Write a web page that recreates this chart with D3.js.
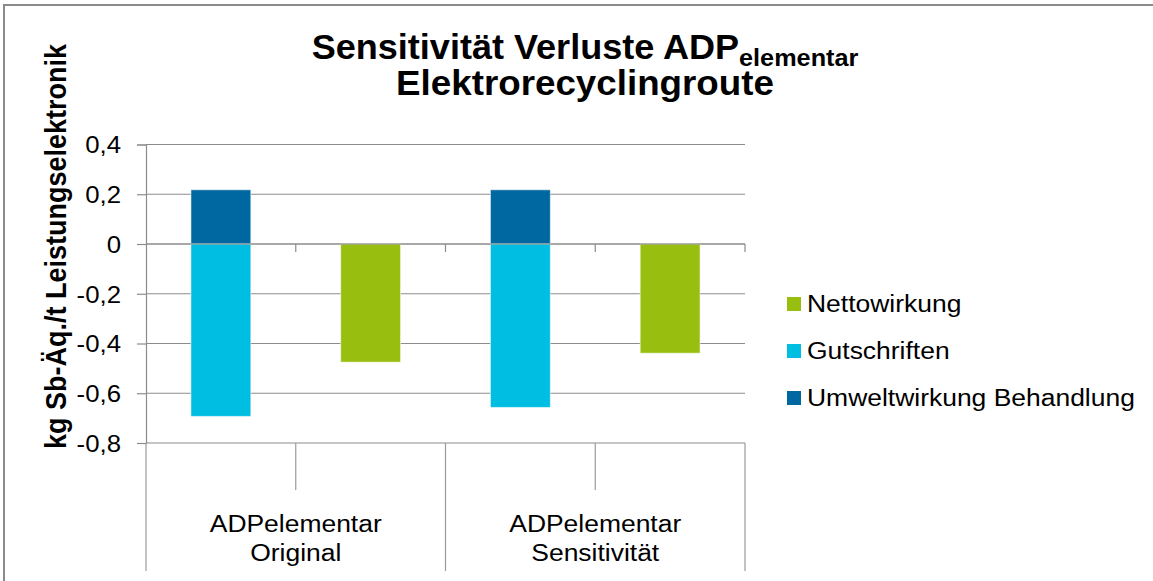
<!DOCTYPE html>
<html>
<head>
<meta charset="utf-8">
<script src="https://cdn.jsdelivr.net/npm/d3@7"></script>
<style>
  body { margin: 0; background: #fff; }
  text { font-family: "Liberation Sans", Arial, Helvetica, sans-serif; fill: #000; }
</style>
</head>
<body>
<svg id="chart" width="1153" height="581"></svg>
<script>
// Kategorien (zweizeilige Beschriftung) und Positionen innerhalb jeder Kategorie
const categories = ["ADPelementar\nOriginal", "ADPelementar\nSensitivität"];
const slots = ["gestapelt", "netto"];

// Werte in kg Sb-Äq./t Leistungselektronik
const umweltwirkung = [0.218, 0.218];
const gutschriften = [-0.693, -0.657];
const nettowirkung = [-0.475, -0.439];

const yTicks = [0.4, 0.2, 0, -0.2, -0.4, -0.6, -0.8];
const legendNames = ["Nettowirkung", "Gutschriften", "Umweltwirkung Behandlung"];
const legendColors = ["#98bf10", "#00bde2", "#0068a0"];

const svg = d3.select("#chart");
const plot = { left: 146, right: 745, top: 144.5, bottom: 443 };
const axisBottom = 571;

const de = d3.formatLocale({ decimal: ",", thousands: ".", grouping: [3], currency: ["", " €"], minus: "-" });
const fmt = de.format(".1~f");

// Horizontally widen a text element to the given factor of its natural length
function stretch(sel, k) {
  sel.each(function () {
    const w = this.getComputedTextLength();
    this.setAttribute("textLength", w * k);
    this.setAttribute("lengthAdjust", "spacingAndGlyphs");
  });
}

// Chart frame
svg.append("rect")
  .attr("x", 4).attr("y", 5).attr("width", 1200).attr("height", 640)
  .attr("fill", "none").attr("stroke", "#8a8a8a").attr("stroke-width", 2);

const y = d3.scaleLinear().domain([-0.8, 0.4]).range([plot.bottom, plot.top]);
const x0 = d3.scaleBand().domain(categories).range([plot.left, plot.right]);
const x1 = d3.scaleBand().domain(slots).range([0, x0.bandwidth()])
  .paddingInner(0.6).paddingOuter(0.3);

// Gridlines (behind bars)
svg.append("g").selectAll("line").data(yTicks).join("line")
  .attr("x1", plot.left).attr("x2", plot.right)
  .attr("y1", d => y(d)).attr("y2", d => y(d))
  .attr("stroke", "#8c8c8c").attr("stroke-width", 1.2);

// Y axis with ticks and labels
const yAxis = svg.append("g")
  .attr("transform", `translate(${plot.left},0)`)
  .call(d3.axisLeft(y).tickValues(yTicks).tickFormat(fmt).tickSize(9).tickPadding(16));
yAxis.select(".domain").attr("stroke", "#8c8c8c").attr("stroke-width", 1.2);
yAxis.selectAll(".tick line").attr("stroke", "#8c8c8c").attr("stroke-width", 1.2);
yAxis.selectAll(".tick text")
  .attr("font-size", 23).attr("fill", "#000")
  .attr("dy", "0.36em")
  .call(stretch, 1.12);

// Bars
const bars = svg.append("g");
categories.forEach((c, i) => {
  const xs = x0(c) + x1("gestapelt");
  const xn = x0(c) + x1("netto");
  bars.append("rect")
    .attr("x", xs).attr("width", x1.bandwidth())
    .attr("y", y(umweltwirkung[i])).attr("height", y(0) - y(umweltwirkung[i]))
    .attr("fill", legendColors[2]);
  bars.append("rect")
    .attr("x", xs).attr("width", x1.bandwidth())
    .attr("y", y(0)).attr("height", y(gutschriften[i]) - y(0))
    .attr("fill", legendColors[1]);
  bars.append("rect")
    .attr("x", xn).attr("width", x1.bandwidth())
    .attr("y", y(0)).attr("height", y(nettowirkung[i]) - y(0))
    .attr("fill", legendColors[0]);
});
bars.selectAll("rect").attr("stroke", "rgba(255,255,255,0.55)").attr("stroke-width", 1);

// Category axis at zero with small tick marks
const catAxis = svg.append("g");
catAxis.append("line")
  .attr("x1", plot.left).attr("x2", plot.right)
  .attr("y1", y(0)).attr("y2", y(0))
  .attr("stroke", "#8c8c8c").attr("stroke-width", 1.2);
const slotEdges = [];
categories.forEach(c => slots.forEach((s, j) => slotEdges.push(x0(c) + x0.bandwidth() / 2 * (j + 1))));
catAxis.selectAll(".zt").data(slotEdges).join("line")
  .attr("class", "zt")
  .attr("x1", d => d).attr("x2", d => d)
  .attr("y1", y(0)).attr("y2", y(0) + 8)
  .attr("stroke", "#8c8c8c").attr("stroke-width", 1.2);

// Label grid below the plot: short dividers between slots, long ones between categories
const labelGrid = svg.append("g");
const longEdges = [plot.left].concat(categories.map(c => x0(c) + x0.bandwidth()));
labelGrid.selectAll(".le").data(longEdges).join("line")
  .attr("x1", d => d).attr("x2", d => d)
  .attr("y1", plot.bottom).attr("y2", axisBottom)
  .attr("stroke", "#9a9a9a").attr("stroke-width", 1.2);
labelGrid.selectAll(".se").data(categories).join("line")
  .attr("x1", c => x0(c) + x0.bandwidth() / 2).attr("x2", c => x0(c) + x0.bandwidth() / 2)
  .attr("y1", plot.bottom).attr("y2", plot.bottom + 47)
  .attr("stroke", "#9a9a9a").attr("stroke-width", 1.2);

categories.forEach(c => {
  c.split("\n").forEach((line, k) => {
    svg.append("text")
      .attr("x", x0(c) + x0.bandwidth() / 2)
      .attr("y", 532 + k * 28.5)
      .attr("text-anchor", "middle")
      .attr("font-size", 23)
      .text(line)
      .call(stretch, 1.15);
  });
});

// Title
const t1 = svg.append("text")
  .attr("x", 585).attr("y", 58.5)
  .attr("text-anchor", "middle")
  .attr("font-size", 35).attr("font-weight", "bold");
t1.append("tspan").text("Sensitivität Verluste ADP");
t1.append("tspan").attr("font-size", 24.5).attr("dy", 7).text("elementar");
t1.call(stretch, 1.03);
svg.append("text")
  .attr("x", 585).attr("y", 94.5)
  .attr("text-anchor", "middle")
  .attr("font-size", 35).attr("font-weight", "bold")
  .text("Elektrorecyclingroute")
  .call(stretch, 1.05);

// Y axis title
svg.append("text")
  .attr("transform", "translate(66,246.5) scale(1.1,1) rotate(-90)")
  .attr("text-anchor", "middle")
  .attr("font-size", 27).attr("font-weight", "bold")
  .text("kg Sb-Äq./t Leistungselektronik");

// Legend
const legend = svg.append("g");
const legendY = d3.scalePoint().domain(legendNames).range([304, 398]);
legend.selectAll("rect").data(legendNames).join("rect")
  .attr("x", 787).attr("y", d => legendY(d) - 7)
  .attr("width", 14).attr("height", 14)
  .attr("fill", (d, i) => legendColors[i]);
legend.selectAll("text").data(legendNames).join("text")
  .attr("x", 807).attr("y", d => legendY(d) + 7.5)
  .attr("font-size", 23)
  .text(d => d)
  .call(stretch, 1.15);
</script>
</body>
</html>
